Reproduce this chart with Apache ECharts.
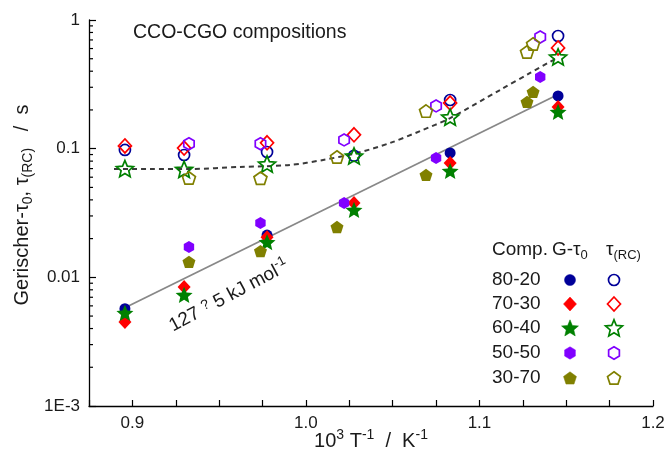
<!DOCTYPE html>
<html><head><meta charset="utf-8">
<script src="https://cdn.jsdelivr.net/npm/echarts@6/dist/echarts.min.js"></script>
<style>html,body{margin:0;padding:0;background:#fff}#c{width:668px;height:463px}</style>
</head><body><div id="c"></div>
<script>
// ---------------- data ----------------
const compositions = ['80-20', '70-30', '60-40', '50-50', '30-70'];
// Gerischer tau0 (filled symbols): [1000/T, tau / s]
const g8020 = [[0.8957, 0.0057], [0.9776, 0.0213], [1.0831, 0.0926], [1.1453, 0.257]];
const g7030 = [[0.8957, 0.0045], [0.9298, 0.0084], [0.9776, 0.0205], [1.0277, 0.0379], [1.0831, 0.0774], [1.1453, 0.211]];
const g6040 = [[0.8957, 0.0053], [0.9298, 0.0073], [0.9776, 0.0188], [1.0277, 0.0334], [1.0831, 0.0671], [1.1453, 0.193]];
const g5050 = [[0.9326, 0.0172], [0.9738, 0.0265], [1.0220, 0.0379], [1.0750, 0.0847], [1.1350, 0.361]];
const g3070 = [[0.9326, 0.0132], [0.9738, 0.0160], [1.0179, 0.0246], [1.0692, 0.0625], [1.1274, 0.231], [1.1309, 0.276]];
// tau(RC) (open symbols)
const rc8020 = [[0.8957, 0.0977], [0.9298, 0.0893], [0.9776, 0.0942], [1.0277, 0.0880], [1.0831, 0.239], [1.1453, 0.751]];
const rc7030 = [[0.8957, 0.105], [0.9298, 0.101], [0.9776, 0.111], [1.0277, 0.128], [1.0831, 0.226], [1.1453, 0.606]];
const rc6040 = [[0.8957, 0.0700], [0.9298, 0.0690], [0.9776, 0.0760], [1.0277, 0.0877], [1.0831, 0.176], [1.1453, 0.516]];
const rc5050 = [[0.9326, 0.109], [0.9738, 0.109], [1.0220, 0.117], [1.0750, 0.215], [1.1350, 0.738]];
const rc3070 = [[0.9326, 0.0592], [0.9738, 0.0590], [1.0179, 0.0862], [1.0692, 0.196], [1.1274, 0.564], [1.1309, 0.651]];
// Arrhenius fit of G-tau0 (solid) and guide curve for tau(RC) (dashed)
const fitLine = [[0.8957, 0.0058], [1.1447, 0.261]];
const rcCurve = [[0.8894, 0.0696], [0.9102, 0.0696], [0.9332, 0.0696], [0.9620, 0.0721], [0.9908, 0.0747],
  [1.0099, 0.0817], [1.0295, 0.0926], [1.0485, 0.1107], [1.0658, 0.137], [1.0831, 0.173],
  [1.1119, 0.286], [1.1292, 0.388], [1.1447, 0.507]];
// axis ticks
const xTickLabels = ['0.9', '1.0', '1.1', '1.2'];
const yTickLabels = {'-3': '1E-3', '-2': '0.01', '-1': '0.1', '0': '1'};
const yMinorMultipliers = [2, 3, 4, 5, 6, 7, 8, 9];
const yDecades = [0.001, 0.01, 0.1];

// ---------------- styles ----------------
const FONT = "'Liberation Sans', Arial, Helvetica, sans-serif";
const TXT = '#1a1a1a';
const colors = ['#000099', '#ff0000', '#008000', '#8000ff', '#808000'];

function polyPoints(n, R, innerRatio, cx, cy) {
  const pts = [];
  const steps = innerRatio ? n * 2 : n;
  for (let i = 0; i < steps; i++) {
    const a = -Math.PI / 2 + i * 2 * Math.PI / steps;
    const r = innerRatio && (i % 2 === 1) ? R * innerRatio : R;
    pts.push([cx + r * Math.cos(a), cy + r * Math.sin(a)]);
  }
  return pts;
}
function polyPath(n, innerRatio) {
  const pts = polyPoints(n, 100, innerRatio, 0, 0);
  return 'path://M' + pts.map(p => p[0].toFixed(2) + ' ' + p[1].toFixed(2)).join(' L') + ' Z';
}
const STAR = polyPath(5, 0.45);
const PENT = polyPath(5, 0);
const HEX = polyPath(6, 0);
const symbols = [
  {symbol: 'circle', size: 11},
  {symbol: 'diamond', size: [13, 14]},
  {symbol: STAR, size: 17},
  {symbol: HEX, size: 12},
  {symbol: PENT, size: 13}
];
const gData = [g8020, g7030, g6040, g5050, g3070];
const rcData = [rc8020, rc7030, rc6040, rc5050, rc3070];

const series = [];
series.push({
  type: 'line', data: fitLine, symbol: 'none', silent: true, z: 1,
  lineStyle: {color: '#888888', width: 1.8}
});
series.push({
  type: 'line', data: rcCurve, symbol: 'none', smooth: 0.3, silent: true, z: 1,
  lineStyle: {color: '#3a3a3a', width: 2, type: [5, 4]}
});
compositions.forEach((c, i) => {
  series.push({
    name: c + ' G', type: 'scatter', data: gData[i], z: 3,
    symbol: symbols[i].symbol, symbolSize: symbols[i].size, symbolKeepAspect: true,
    itemStyle: {color: colors[i], opacity: 1}
  });
});
compositions.forEach((c, i) => {
  series.push({
    name: c + ' RC', type: 'scatter', data: rcData[i], z: 3,
    symbol: symbols[i].symbol, symbolSize: symbols[i].size, symbolKeepAspect: true,
    itemStyle: {color: 'rgba(255,255,255,0)', borderColor: colors[i], borderWidth: 1.7, opacity: 1}
  });
});
// y minor ticks (2..9 per decade) drawn through the axis scale
const minorData = [];
yDecades.forEach(d => yMinorMultipliers.forEach(m => minorData.push([0.875, m * d])));
series.push({
  type: 'custom', data: minorData, silent: true, z: 5,
  renderItem: (params, api) => {
    const p = api.coord([api.value(0), api.value(1)]);
    return {type: 'line', shape: {x1: p[0], y1: p[1], x2: p[0] + 4, y2: p[1]},
      style: {stroke: '#000', lineWidth: 1.2}};
  }
});

// legend graphics
const legendX = 492, fillX = 570, openX = 614, rowY = [280, 304, 328, 353, 378];
const rich = {
  n: {fontSize: 19, fontFamily: FONT, fill: TXT},
  s: {fontSize: 13, fontFamily: FONT, fill: TXT, padding: [11, 0, 0, 0]},
  u: {fontSize: 13, fontFamily: FONT, fill: TXT, padding: [0, 0, 12, 0]},
  q: {fontSize: 14, fontFamily: FONT, fill: TXT, padding: [0, 0, 6, 0]},
  N: {fontSize: 20, fontFamily: FONT, fill: TXT},
  S: {fontSize: 14, fontFamily: FONT, fill: TXT, padding: [12, 0, 0, 0]},
  U: {fontSize: 14, fontFamily: FONT, fill: TXT, padding: [0, 0, 12, 0]}
};
function rtext(x, y, text, extra) {
  return Object.assign({type: 'text', x: x, y: y, silent: true,
    style: {text: text, rich: rich, fontSize: 19, fontFamily: FONT, fill: TXT, align: 'left', verticalAlign: 'middle'}}, extra || {});
}
function marker(kind, cx, cy, color, filled) {
  const st = filled ? {fill: color, stroke: color, lineWidth: 0.5} : {fill: 'none', stroke: color, lineWidth: 1.7};
  let shape;
  if (kind === 0) return {type: 'circle', silent: true, shape: {cx: cx, cy: cy, r: 5.5}, style: st};
  if (kind === 1) shape = [[cx, cy - 7], [cx + 6.5, cy], [cx, cy + 7], [cx - 6.5, cy]];
  if (kind === 2) shape = polyPoints(5, 8.9, 0.45, cx, cy + 0.7);
  if (kind === 3) shape = polyPoints(6, 6.2, 0, cx, cy);
  if (kind === 4) shape = polyPoints(5, 6.8, 0, cx, cy + 0.6);
  return {type: 'polygon', silent: true, shape: {points: shape}, style: st};
}
const graphics = [];
graphics.push(rtext(133, 33, '{n|CCO-CGO compositions}', {style: {text: '{n|CCO-CGO compositions}', rich: {n: {fontSize: 19.5, fontFamily: FONT, fill: TXT}}, align: 'left', verticalAlign: 'middle'}}));
graphics.push(rtext(492, 250, '{n|Comp.}'));
graphics.push(rtext(552, 250, '{n|G-τ}{s|0}'));
graphics.push(rtext(606, 250, '{n|τ}{s|(RC)}'));
compositions.forEach((c, i) => {
  graphics.push(rtext(legendX, rowY[i], '{n|' + c + '}'));
  graphics.push(marker(i, fillX, rowY[i], colors[i], true));
  graphics.push(marker(i, openX, rowY[i], colors[i], false));
});
// axis titles
const yTitle = '{N|Gerischer-τ}{S|0}{N|, τ}{S|(RC)}{N|   /  s}';
graphics.push(rtext(22, 205, yTitle,
  {rotation: Math.PI / 2, style: {text: yTitle, rich: rich, align: 'center', verticalAlign: 'middle'}}));
const xTitle = '{N|10}{U|3}{N| T}{U|-1}{N|  /  K}{U|-1}';
graphics.push(rtext(371, 441, xTitle,
  {style: {text: xTitle, rich: rich, align: 'center', verticalAlign: 'middle'}}));
// activation energy annotation
const ann = '{n|127 }{q|?}{n| 5 kJ mol}{u|-1}';
graphics.push(rtext(229, 296, ann,
  {rotation: 28 * Math.PI / 180, style: {text: ann, rich: rich, align: 'center', verticalAlign: 'middle'}}));

const chart = echarts.init(document.getElementById('c'), null, {renderer: 'canvas'});
chart.setOption({
  animation: false,
  backgroundColor: '#fff',
  grid: {left: 89, right: 15, top: 20, bottom: 57, containLabel: false},
  xAxis: {
    type: 'value', min: 0.875, max: 1.2, interval: 0.025,
    axisLine: {lineStyle: {color: '#000', width: 1.3}},
    axisTick: {inside: true, length: 6, lineStyle: {color: '#000', width: 1.2}},
    splitLine: {show: false},
    axisLabel: {
      interval: 0, margin: 9, fontSize: 17, fontFamily: FONT, color: TXT,
      formatter: v => {
        const k = Math.round(v * 10);
        if (Math.abs(v * 10 - k) > 1e-6) return '';
        const idx = k - 9;
        return xTickLabels[idx] || '';
      }
    }
  },
  yAxis: {
    type: 'log', logBase: 10, min: 0.001, max: 1, interval: 1,
    axisLine: {lineStyle: {color: '#000', width: 1.3}},
    axisTick: {inside: true, length: 7, lineStyle: {color: '#000', width: 1.2}},
    splitLine: {show: false},
    axisLabel: {
      margin: 9, fontSize: 17, fontFamily: FONT, color: TXT,
      formatter: v => yTickLabels[String(Math.round(Math.log10(v)))] || ''
    }
  },
  series: series,
  graphic: graphics
});
</script></body></html>
